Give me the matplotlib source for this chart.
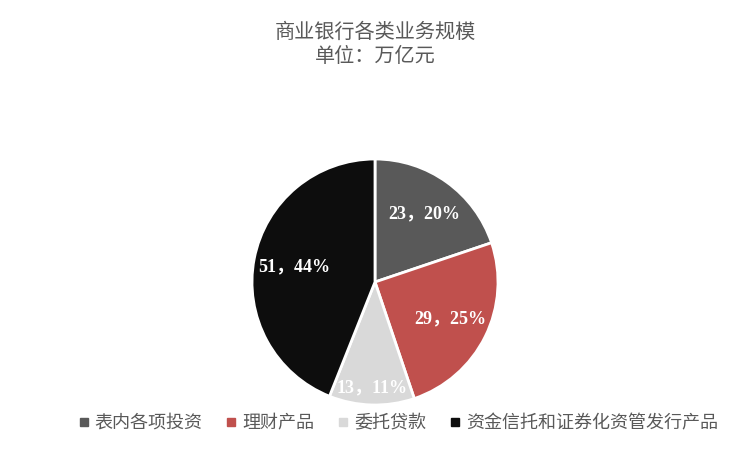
import matplotlib
matplotlib.use("Agg")
import numpy as np
import matplotlib.pyplot as plt
from matplotlib.lines import Line2D

plt.rcParams['font.family'] = ['Noto Sans CJK SC', 'DejaVu Sans']

# 数据
categories = ['表内各项投资', '理财产品', '委托贷款', '资金信托和证券化资管发行产品']
values = [23, 29, 13, 51]
colors = ['#595959', '#C0504D', '#D9D9D9', '#0D0D0D']
label_r = [0.68, 0.68, 0.86, 0.67]

fig = plt.figure(figsize=(7.5, 4.5), dpi=100)

# 饼图的位置：中心 (375, 282) px，半径 123 px
cx, cy, r = 375, 450 - 282, 123
ax = fig.add_axes([(cx - r) / 750, (cy - r) / 450, 2 * r / 750, 2 * r / 450])

wedges, _ = ax.pie(values, colors=colors, startangle=90, counterclock=False,
                   radius=1, wedgeprops=dict(edgecolor='white', linewidth=2))
ax.set_xlim(-1, 1)
ax.set_ylim(-1, 1)
ax.set_aspect('equal')
ax.axis('off')

total = sum(values)
for w, v, lr in zip(wedges, values, label_r):
    ang = np.deg2rad((w.theta1 + w.theta2) / 2)
    pct = round(v / total * 100)
    ax.text(lr * np.cos(ang), lr * np.sin(ang), f"{v}，{pct}%",
            ha='center', va='center', color='white', fontsize=13,
            fontweight='bold', family=['Liberation Serif', 'Noto Sans CJK SC'])

fig.text(0.5, 1 - 32 / 450, '商业银行各类业务规模', ha='center', va='center',
         fontsize=14.5, color='#595959')
fig.text(0.5, 1 - 57 / 450, '单位：万亿元', ha='center', va='center',
         fontsize=14.5, color='#595959')

handles = [Line2D([], [], marker='s', linestyle='none', markersize=6,
                  markerfacecolor=c, markeredgecolor=c) for c in colors]
leg = fig.legend(handles, categories, loc='center', ncol=4,
                 bbox_to_anchor=(398 / 750, 1 - 423 / 450), frameon=False,
                 fontsize=13, handlelength=0.6, handletextpad=0.3,
                 columnspacing=1.3, borderaxespad=0)
for t in leg.get_texts():
    t.set_color('#595959')

fig.savefig('out.png', dpi=100, facecolor='white')
